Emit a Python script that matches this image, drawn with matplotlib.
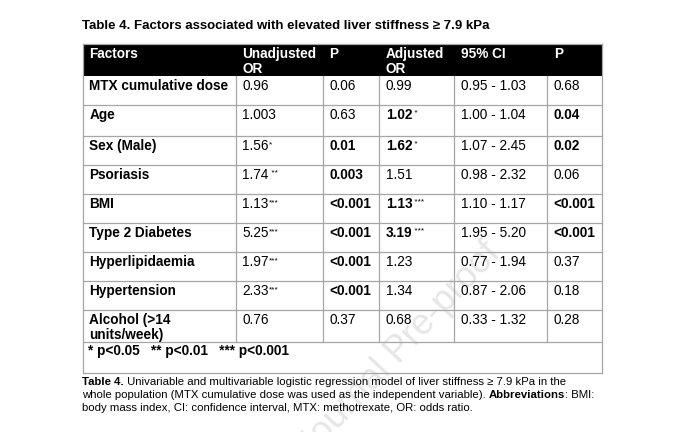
import matplotlib
matplotlib.use('Agg')
import matplotlib.pyplot as plt

plt.rcParams['font.family'] = ['Liberation Sans', 'DejaVu Sans']

# table data
headers = [['Factors'], ['Unadjusted', 'OR'], ['P'], ['Adjusted', 'OR'], ['95% CI'], ['P']]
factors = [['MTX cumulative dose'], ['Age'], ['Sex (Male)'], ['Psoriasis'], ['BMI'],
           ['Type 2 Diabetes'], ['Hyperlipidaemia'], ['Hypertension'],
           ['Alcohol (>14', 'units/week)']]
unadj_or = ['0.96', '1.003', '1.56', '1.74', '1.13', '5.25', '1.97', '2.33', '0.76']
unadj_sig = ['', '', '*', ' **', '***', '***', '***', '***', '']
p_unadj = ['0.06', '0.63', '0.01', '0.003', '<0.001', '<0.001', '<0.001', '<0.001', '0.37']
p_unadj_bold = [False, False, True, True, True, True, True, True, False]
adj_or = ['0.99', '1.02', '1.62', '1.51', '1.13', '3.19', '1.23', '1.34', '0.68']
adj_sig = ['', ' *', ' *', '', ' ***', ' ***', '', '', '']
adj_bold = [False, True, True, False, True, True, False, False, False]
ci = ['0.95 - 1.03', '1.00 - 1.04', '1.07 - 2.45', '0.98 - 2.32', '1.10 - 1.17',
      '1.95 - 5.20', '0.77 - 1.94', '0.87 - 2.06', '0.33 - 1.32']
p_adj = ['0.68', '0.04', '0.02', '0.06', '<0.001', '<0.001', '0.37', '0.18', '0.28']
p_adj_bold = [False, True, True, False, True, True, False, False, False]

title = 'Table 4. Factors associated with elevated liver stiffness \u2265 7.9 kPa'
footnote = '* p<0.05   ** p<0.01   *** p<0.001'
caption = [
    [('Table 4.', 'bold'), (' Univariable and multivariable logistic regression model of liver stiffness \u2265 7.9 kPa in the', 'normal')],
    [('whole population (MTX cumulative dose was used as the independent variable). ', 'normal'),
     ('Abbreviations', 'bold'), (': BMI:', 'normal')],
    [('body mass index, CI: confidence interval, MTX: methotrexate, OR: odds ratio.', 'normal')],
]

# layout in pixels
col_x = [82.7, 235.7, 322.7, 379.3, 454.3, 547.3, 602.3]
head_top, head_bot = 44, 76
row_bot = [105, 136, 165, 194, 223, 252, 281, 310, 342]
foot_bot = 373
line_c = '#a6a6a6'
fs = 9.8

fig = plt.figure(figsize=(6.8, 4.32), dpi=100)
ax = fig.add_axes([0, 0, 1, 1])
ax.set_xlim(0, 680)
ax.set_ylim(432, 0)
ax.axis('off')
fig.canvas.draw()
rend = fig.canvas.get_renderer()


def put(x, y, parts, color='black'):
    # parts: (text, weight, size, raise)
    for s, w, size, dy in parts:
        t = ax.text(x, y - dy, s, fontsize=size, fontweight=w, color=color,
                    va='baseline', ha='left')
        x += t.get_window_extent(rend).width


# watermark
ax.text(482, 236, 'Journal Pre-proof', fontsize=26, color='#e6e6e6', rotation=47,
        rotation_mode='anchor', ha='right', va='top', zorder=0)

put(82, 29, [(title, 'bold', 9.5, 0)])

# header
ax.fill_between([col_x[0], col_x[-1]], head_top, head_bot, color='black', lw=0)
for j, h in enumerate(headers):
    for k, line in enumerate(h):
        put(col_x[j] + 6.5, 58 + 15 * k, [(line, 'bold', fs, 0)], color='white')

# body
tops = [head_bot] + row_bot[:-1]
for i in range(len(factors)):
    base = tops[i] + 14
    for k, line in enumerate(factors[i]):
        put(col_x[0] + 6.5, base + 15 * k, [(line, 'bold', fs, 0)])
    put(col_x[1] + 6.5, base, [(unadj_or[i], 'normal', fs, 0), (unadj_sig[i], 'normal', 6, 4)])
    put(col_x[2] + 6.5, base, [(p_unadj[i], 'bold' if p_unadj_bold[i] else 'normal', fs, 0)])
    w = 'bold' if adj_bold[i] else 'normal'
    put(col_x[3] + 6.5, base, [(adj_or[i], w, fs, 0), (adj_sig[i], 'normal', 6, 4)])
    put(col_x[4] + 6.5, base, [(ci[i], 'normal', fs, 0)])
    put(col_x[5] + 6.5, base, [(p_adj[i], 'bold' if p_adj_bold[i] else 'normal', fs, 0)])

put(col_x[0] + 5, row_bot[-1] + 13, [(footnote, 'bold', fs, 0)])

# grid lines
for y in row_bot:
    ax.plot([col_x[0], col_x[-1]], [y, y], color=line_c, lw=0.9)
ax.plot([col_x[0], col_x[-1]], [foot_bot, foot_bot], color=line_c, lw=0.9)
ax.plot([col_x[0], col_x[-1]], [head_top, head_top], color=line_c, lw=0.9)
for x in col_x[1:-1]:
    ax.plot([x, x], [head_bot, row_bot[-1]], color=line_c, lw=0.9)
for x in (col_x[0], col_x[-1]):
    ax.plot([x, x], [head_top, foot_bot], color=line_c, lw=0.9)

for k, parts in enumerate(caption):
    put(82, 385 + 13 * k, [(s, w, 8.2, 0) for s, w in parts])

fig.savefig('out.png', dpi=100)
